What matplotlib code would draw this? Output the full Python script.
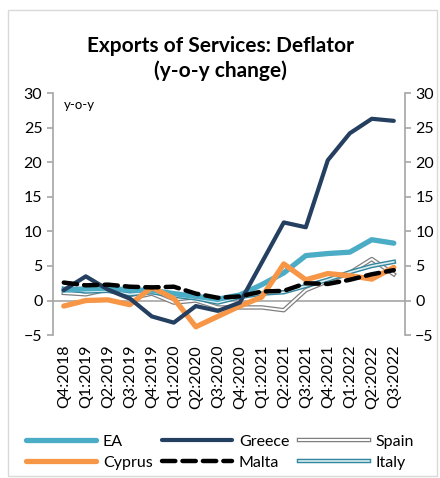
import matplotlib
matplotlib.use("Agg")
import matplotlib.pyplot as plt
from matplotlib.patches import Rectangle

plt.rcParams['font.family'] = ['Lato', 'DejaVu Sans']

quarters = ["Q4:2018", "Q1:2019", "Q2:2019", "Q3:2019", "Q4:2019", "Q1:2020",
            "Q2:2020", "Q3:2020", "Q4:2020", "Q1:2021", "Q2:2021", "Q3:2021",
            "Q4:2021", "Q1:2022", "Q2:2022", "Q3:2022"]

ea = [1.5, 1.7, 1.8, 1.5, 1.5, 1.0, 0.6, 0.2, 0.8, 2.3, 4.0, 6.5, 6.8, 7.0, 8.8, 8.3]
greece = [1.5, 3.5, 1.6, 0.3, -2.3, -3.2, -0.8, -1.5, -0.3, 5.5, 11.3, 10.6, 20.3, 24.2, 26.3, 26.0]
spain = [1.1, 0.9, 1.6, 0.3, 1.0, -0.3, 0.0, -1.0, -1.0, -1.0, -1.4, 1.5, 2.8, 4.0, 6.0, 3.8]
cyprus = [-0.8, 0.0, 0.1, -0.6, 1.9, 0.3, -3.8, -2.3, -0.8, 0.5, 5.3, 3.0, 3.9, 3.6, 3.1, 4.8]
malta = [2.6, 2.2, 2.3, 2.0, 1.9, 2.0, 1.0, 0.4, 0.6, 1.3, 1.4, 2.5, 2.4, 3.0, 3.8, 4.4]
italy = [1.7, 1.3, 1.4, 0.9, 1.2, 0.7, 0.3, -0.3, 0.5, 1.0, 1.2, 2.1, 3.0, 4.1, 5.0, 5.6]

x = range(len(quarters))
grey = "#a6a6a6"

fig = plt.figure(figsize=(4.4, 4.78), dpi=100)
ax = fig.add_axes([0.12, 0.299, 0.80, 0.506])

# zero line
ax.axhline(0, color=grey, lw=1.2, zorder=1)

# Spain and Italy are drawn as double lines (outer + thin inner)
sp_out, = ax.plot(x, spain, color="#7f7f7f", lw=3.2, zorder=2)
sp_in, = ax.plot(x, spain, color="white", lw=1.4, zorder=2)
it_out, = ax.plot(x, italy, color="#31859c", lw=3.2, zorder=3)
it_in, = ax.plot(x, italy, color="#daeef3", lw=1.2, zorder=3)
l_ea, = ax.plot(x, ea, color="#4bacc6", lw=3.8, zorder=4, solid_capstyle="round")
l_cy, = ax.plot(x, cyprus, color="#f79646", lw=3.8, zorder=5, solid_capstyle="round")
l_gr, = ax.plot(x, greece, color="#243f60", lw=3.0, zorder=6, solid_capstyle="round")
l_mt, = ax.plot(x, malta, color="black", lw=3.2, zorder=7, dashes=(3, 1.6),
                dash_capstyle="round")

ax.set_xlim(-0.5, len(quarters) - 0.5)
ax.set_ylim(-5, 30)
ax.set_yticks(range(-5, 31, 5))
ax.set_xticks(list(x))
ax.set_xticklabels(quarters, rotation=90, fontsize=11.5)
ax.tick_params(axis="x", length=0, pad=7)
ax.tick_params(axis="y", direction="out", color=grey, length=4, width=1.2,
               labelsize=11.5, right=True, labelright=True)
for side in ["top", "bottom"]:
    ax.spines[side].set_visible(False)
for side in ["left", "right"]:
    ax.spines[side].set_color(grey)
    ax.spines[side].set_linewidth(1.2)

ax.text(0.03, 0.975, "y-o-y", transform=ax.transAxes, fontsize=9.5, va="top")

fig.text(0.5, 0.878, "Exports of Services: Deflator\n(y-o-y change)", ha="center",
         va="center", fontsize=15, fontweight="bold", linespacing=1.25)

handles = [l_ea, l_cy, l_gr, l_mt, (sp_out, sp_in), (it_out, it_in)]
labels = ["EA", "Cyprus", "Greece", "Malta", "Spain", "Italy"]
fig.legend(handles, labels, loc="center", bbox_to_anchor=(0.5, 0.054), ncol=3,
           frameon=False, fontsize=11.5, handlelength=4.4, columnspacing=0.6,
           handletextpad=0.4, labelspacing=0.45)

fig.add_artist(Rectangle((0.018, 0.004), 0.975, 0.975, transform=fig.transFigure,
                         fill=False, edgecolor="#d9d9d9", lw=1))

fig.savefig("out.png", dpi=100)
